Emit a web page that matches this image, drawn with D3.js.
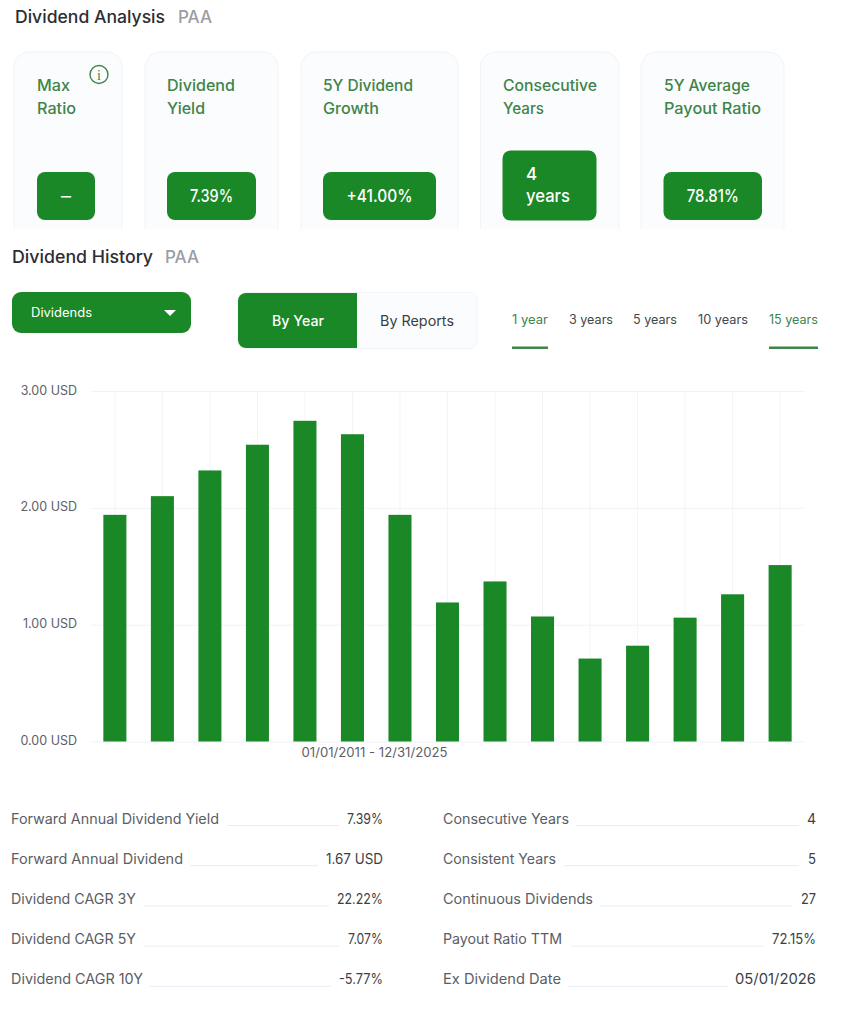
<!DOCTYPE html>
<html>
<head>
<meta charset="utf-8">
<script src="https://cdn.jsdelivr.net/npm/d3@7"></script>
<style>
body { margin:0; background:#fff; }
svg { display:block; }
text { font-family:Inter, "Noto Sans", sans-serif; }
</style>
</head>
<body>
<svg></svg>
<script>
// chart data
var years = ["2011","2012","2013","2014","2015","2016","2017","2018","2019","2020","2021","2022","2023","2024","2025"];
var dividends = [1.94,2.10,2.32,2.54,2.745,2.63,1.94,1.19,1.37,1.07,0.71,0.82,1.06,1.26,1.51];
var yTicks = [0,1,2,3];
var dateRange = "01/01/2011 - 12/31/2025";

// cards
var cardTitles = [["Max","Ratio"],["Dividend","Yield"],["5Y Dividend","Growth"],["Consecutive","Years"],["5Y Average","Payout Ratio"]];
var cardValues = [["–"],["7.39%"],["+41.00%"],["4","years"],["78.81%"]];

// stat rows
var leftLabels = ["Forward Annual Dividend Yield","Forward Annual Dividend","Dividend CAGR 3Y","Dividend CAGR 5Y","Dividend CAGR 10Y"];
var leftValues = ["7.39%","1.67 USD","22.22%","7.07%","-5.77%"];
var rightLabels = ["Consecutive Years","Consistent Years","Continuous Dividends","Payout Ratio TTM","Ex Dividend Date"];
var rightValues = ["4","5","27","72.15%","05/01/2026"];

var periods = ["1 year","3 years","5 years","10 years","15 years"];

var green = "#1a8826";
var titleGreen = "#3f8449";

var svg = d3.select("svg").attr("width",850).attr("height",1024);

// draws text squeezed or stretched to the width measured on the reference
var label = function(g,x,y,str,size,color,width,anchor,weight)
{
  var t = g.append("text")
    .attr("x",x)
    .attr("y",y)
    .attr("font-size",size)
    .attr("fill",color)
    .attr("font-weight",weight||400)
    .attr("text-anchor",anchor||"start")
    .text(str);
  if(width){ t.attr("textLength",width).attr("lengthAdjust","spacingAndGlyphs"); }
  return t;
}

// headings
label(svg,15,23,"Dividend Analysis",17,"#2b2d33",150,"start",500);
label(svg,178,23,"PAA",17,"#9a9ca6",34,"start",500);
label(svg,12,263,"Dividend History",17,"#2b2d33",141,"start",500);
label(svg,165,263,"PAA",17,"#9a9ca6",34,"start",500);

// cards, cut off at the bottom like the reference
var cardBox = [
  {x:14,w:108,tx:37,tw:[33,39],bx:37,bw:58,by:172,bh:48,vw:10},
  {x:145,w:133,tx:167,tw:[68,38],bx:167,bw:89,by:172,bh:48,vw:43},
  {x:301,w:157,tx:323,tw:[90,56],bx:323,bw:113,by:172,bh:48,vw:66},
  {x:480.5,w:138.5,tx:503,tw:[94,41],bx:502.5,bw:94,by:150.5,bh:70,vw:44},
  {x:641,w:143,tx:664,tw:[86,97],bx:663.5,bw:98.5,by:172,bh:48,vw:52}
];
svg.append("clipPath").attr("id","cardClip")
  .append("rect").attr("x",0).attr("y",0).attr("width",850).attr("height",229);

var cards = svg.append("g").attr("clip-path","url(#cardClip)");
cardBox.forEach(function(b,i)
{
  cards.append("rect")
    .attr("x",b.x).attr("y",52)
    .attr("width",b.w).attr("height",200)
    .attr("rx",15)
    .attr("fill","#fbfcfe")
    .attr("stroke","#f0f3f7");
  cardTitles[i].forEach(function(s,j)
  {
    label(cards,b.tx,91+j*23,s,15.5,titleGreen,b.tw[j],"start",500);
  });
  cards.append("rect")
    .attr("x",b.bx).attr("y",b.by)
    .attr("width",b.bw).attr("height",b.bh)
    .attr("rx",8)
    .attr("fill",green);
  if(cardValues[i].length==1)
  {
    label(cards,b.bx+b.bw/2,202,cardValues[i][0],17,"#fff",b.vw,"middle",500);
  }
  else
  {
    label(cards,526,180,cardValues[i][0],17,"#fff",null,"start",500);
    label(cards,526,202,cardValues[i][1],17,"#fff",b.vw,"start",500);
  }
});

// info icon
var info = svg.append("g");
info.append("circle").attr("cx",99).attr("cy",74.5).attr("r",9).attr("fill","none").attr("stroke",titleGreen).attr("stroke-width",1.4);
label(info,99,79.5,"i",14,titleGreen,null,"middle",500).style("font-family","'Liberation Serif', serif");

// dropdown
svg.append("rect").attr("x",12).attr("y",292).attr("width",179).attr("height",41).attr("rx",9).attr("fill",green);
label(svg,31,317,"Dividends",12.5,"#fff",61,"start",400);
svg.append("path")
  .attr("d",d3.line()([[164,310],[176,310],[170,316]])+"Z")
  .attr("fill","#fff");

// by year / by reports toggle
svg.append("rect").attr("x",238).attr("y",292.5).attr("width",239).attr("height",56).attr("rx",8).attr("fill","#fbfcfe").attr("stroke","#f0f3f7");
svg.append("path")
  .attr("d","M357,293H246a8,8 0 0 0 -8,8V340a8,8 0 0 0 8,8H357Z")
  .attr("fill",green);
label(svg,298,325.5,"By Year",14,"#fff",52,"middle",500);
label(svg,417,325.5,"By Reports",14,"#3a3d44",74,"middle",400);

// period tabs
var tabX = [512,569,633,698,769];
var tabW = [36,44,44,50,49];
periods.forEach(function(p,i)
{
  var on = i==0 || i==4;
  label(svg,tabX[i],324,p,12.5,on?titleGreen:"#43464d",tabW[i],"start",400);
  if(on)
  {
    svg.append("rect").attr("x",tabX[i]).attr("y",346.5).attr("width",tabW[i]).attr("height",2.5).attr("fill",titleGreen);
  }
});

// bar chart
var margins = {left:91,right:46,top:391,bottom:282.5};
var height = 1024-margins.top-margins.bottom;
var width = 850-margins.left-margins.right;

var xScale = d3.scaleBand()
  .domain(years)
  .range([0,width])
  .paddingInner(0.515)
  .paddingOuter(0.26);

var yScale = d3.scaleLinear()
  .domain([0,3])
  .range([height,0]);

var plot = svg.append("g")
  .attr("transform","translate("+margins.left+","+margins.top+")");

var yAxis = d3.axisLeft(yScale)
  .tickValues(yTicks)
  .tickSize(-width)
  .tickPadding(14)
  .tickFormat(function(d){return d3.format(".2f")(d)+" USD";});

var yG = plot.append("g").call(yAxis);
yG.select(".domain").remove();
yG.selectAll(".tick line").attr("stroke","#f1f2f5");
yG.selectAll(".tick text")
  .attr("font-size",12.5)
  .attr("fill","#5c5f66")
  .attr("dy","0.25em")
  .style("font-family","Inter, sans-serif");

// vertical grid through the bar centres
plot.selectAll(".vgrid")
  .data(years)
  .enter()
  .append("line")
  .attr("class","vgrid")
  .attr("x1",function(d){return xScale(d)+xScale.bandwidth()/2;})
  .attr("x2",function(d){return xScale(d)+xScale.bandwidth()/2;})
  .attr("y1",0)
  .attr("y2",height)
  .attr("stroke","#f3f4f7");

plot.selectAll(".bar")
  .data(dividends)
  .enter()
  .append("rect")
  .attr("class","bar")
  .attr("x",function(d,i){return xScale(years[i]);})
  .attr("width",xScale.bandwidth())
  .attr("y",function(d){return yScale(d);})
  .attr("height",function(d){return height-yScale(d);})
  .attr("fill",green);

label(svg,374.5,757,dateRange,12.5,"#5c5f66",146,"middle",400);

// stat rows
var rows = [
  {labels:leftLabels,values:leftValues,x:11,right:383,
   lineFrom:[227,190,144,144,150],lineTo:[339,318,329,339,331]},
  {labels:rightLabels,values:rightValues,x:443,right:816,
   lineFrom:[576,564,600,571,568],lineTo:[799,799,792,764,728]}
];
var labelW = [[208,172,125,125,132],[126,113,150,119,118]];
var valueW = [[36,57,46,35,44],[9,8,15,44,81]];

rows.forEach(function(r,k)
{
  r.labels.forEach(function(s,i)
  {
    var y = 823.5+i*40.2;
    label(svg,r.x,y,s,14,"#5a5d64",labelW[k][i],"start",400);
    label(svg,r.right,y,r.values[i],14,"#3c3f46",valueW[k][i],"end",400);
    svg.append("line")
      .attr("x1",r.lineFrom[i]).attr("x2",r.lineTo[i])
      .attr("y1",y+2).attr("y2",y+2)
      .attr("stroke","#e6edf7");
  });
});
</script>
</body>
</html>
